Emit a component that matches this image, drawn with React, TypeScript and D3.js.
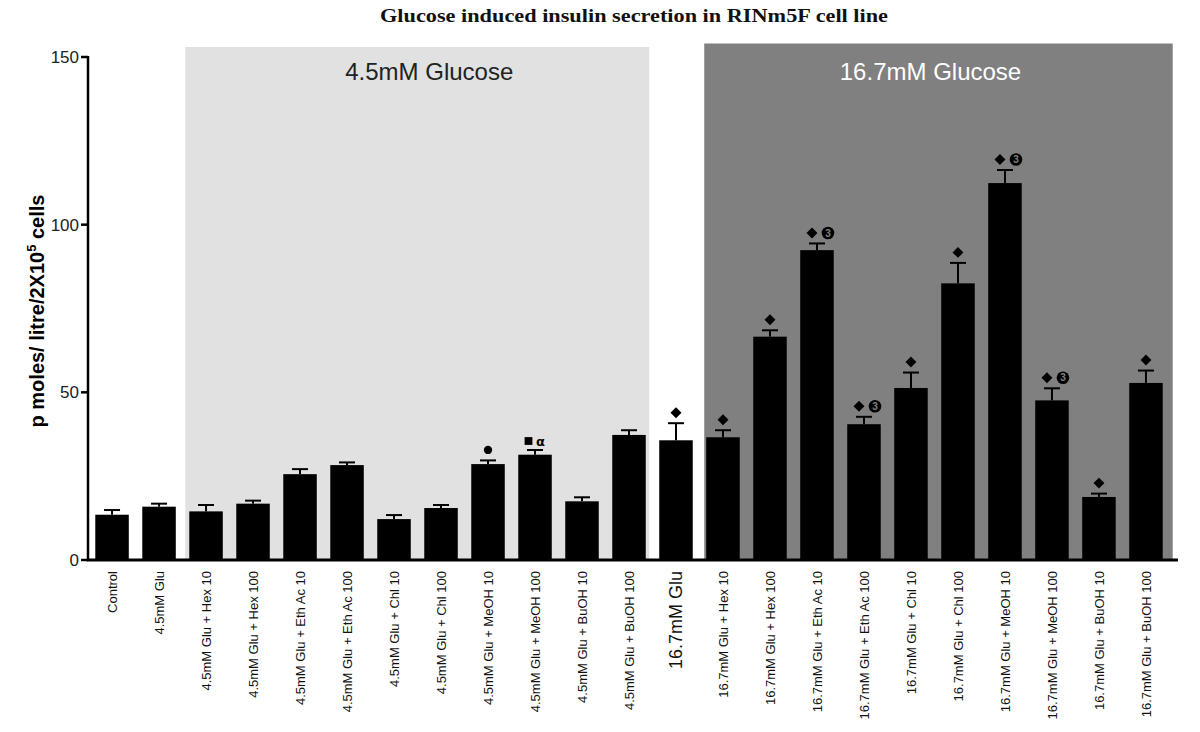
import React from "react";
import * as d3 from "d3";

const categories: string[] = [
  "Control",
  "4.5mM Glu",
  "4.5mM Glu + Hex 10",
  "4.5mM Glu + Hex 100",
  "4.5mM Glu + Eth Ac 10",
  "4.5mM Glu + Eth Ac 100",
  "4.5mM Glu + Chl 10",
  "4.5mM Glu + Chl 100",
  "4.5mM Glu + MeOH 10",
  "4.5mM Glu + MeOH 100",
  "4.5mM Glu + BuOH 10",
  "4.5mM Glu + BuOH 100",
  "16.7mM Glu",
  "16.7mM Glu + Hex 10",
  "16.7mM Glu + Hex 100",
  "16.7mM Glu + Eth Ac 10",
  "16.7mM Glu + Eth Ac 100",
  "16.7mM Glu + Chl 10",
  "16.7mM Glu + Chl 100",
  "16.7mM Glu + MeOH 10",
  "16.7mM Glu + MeOH 100",
  "16.7mM Glu + BuOH 10",
  "16.7mM Glu + BuOH 100",
];

const means: number[] = [
  13.5, 15.9, 14.5, 16.8, 25.6, 28.3, 12.2, 15.5, 28.6, 31.4, 17.5, 37.3,
  35.7, 36.6, 66.6, 92.4, 40.5, 51.3, 82.5, 112.4, 47.6, 18.8, 52.8,
];

const sems: number[] = [
  1.4, 0.9, 1.9, 0.9, 1.5, 0.8, 1.2, 0.9, 1.1, 1.4, 1.2, 1.4,
  5.1, 2.1, 1.9, 2.0, 2.2, 4.6, 6.1, 3.9, 3.6, 1.0, 3.7,
];

// significance marks: d = diamond, c = circle, s = square+alpha, t = diamond + circled 3
const marks: string[] = [
  "", "", "", "", "", "", "", "", "c", "s", "", "",
  "d", "d", "d", "t", "t", "d", "d", "t", "t", "d", "d",
];

const yTicks: number[] = [0, 50, 100, 150];

const title = "Glucose induced insulin secretion in RINm5F cell line";
const lowLabel = "4.5mM Glucose";
const highLabel = "16.7mM Glucose";

const FONT = "'Liberation Sans', Arial, Helvetica, sans-serif";

export default function App() {
  const W = 1200;
  const H = 732;
  const idx = categories.map((_, i) => i);

  const x = d3
    .scaleBand<number>()
    .domain(idx)
    .range([88, 1170])
    .paddingInner(0.287)
    .paddingOuter(0.155);
  const bw = x.bandwidth();
  const y = d3.scaleLinear().domain([0, 150]).range([560, 57]);

  const cx = (i: number) => (x(i) as number) + bw / 2;

  const diamond = d3.symbol().type(d3.symbolSquare).size(60)() as string;

  const lowX0 = (x(2) as number) - 4;
  const lowX1 = (x(11) as number) + bw + 3.5;
  const highX0 = (x(13) as number) - 2;
  const highX1 = (x(22) as number) + bw + 10;

  return (
    <svg
      width={W}
      height={H}
      style={{ position: "absolute", left: 0, top: 0, background: "#fff" }}
    >
      {/* title */}
      <text
        x={634}
        y={22}
        textAnchor="middle"
        fontFamily="'Liberation Serif', 'Times New Roman', serif"
        fontWeight="bold"
        fontSize={19}
        textLength={508}
        lengthAdjust="spacingAndGlyphs"
        fill="#111"
      >
        {title}
      </text>

      {/* shaded regions */}
      <rect x={lowX0} y={y(150) - 10} width={lowX1 - lowX0} height={y(0) - y(150) + 10} fill="#e1e1e1" />
      <rect x={highX0} y={y(150) - 13.5} width={highX1 - highX0} height={y(0) - y(150) + 13.5} fill="#808080" />
      <text x={(lowX0 + lowX1) / 2 + 12} y={80} textAnchor="middle" fontFamily={FONT} fontSize={24} fill="#222">
        {lowLabel}
      </text>
      <text x={(highX0 + highX1) / 2 - 8} y={80} textAnchor="middle" fontFamily={FONT} fontSize={24} fill="#fff">
        {highLabel}
      </text>

      {/* bars */}
      {idx.map((i) => (
        <rect
          key={"b" + i}
          x={x(i)}
          y={y(means[i])}
          width={bw}
          height={y(0) - y(means[i])}
          fill="#000"
        />
      ))}

      {/* error bars */}
      {idx.map((i) => {
        const top = y(means[i] + sems[i]);
        return (
          <g key={"e" + i} stroke="#000" strokeWidth={2}>
            <line x1={cx(i)} x2={cx(i)} y1={y(means[i])} y2={top} />
            <line x1={cx(i) - 8} x2={cx(i) + 8} y1={top} y2={top} />
          </g>
        );
      })}

      {/* significance marks */}
      {idx.map((i) => {
        const m = marks[i];
        if (!m) return null;
        const top = y(means[i] + sems[i]);
        const c = cx(i);
        if (m === "d") {
          return (
            <path key={"m" + i} d={diamond} transform={`translate(${c},${top - 10.5}) rotate(45)`} fill="#000" />
          );
        }
        if (m === "c") {
          return <circle key={"m" + i} cx={c} cy={top - 10.5} r={4.2} fill="#000" />;
        }
        if (m === "s") {
          return (
            <g key={"m" + i}>
              <rect x={c - 6.5 - 3.9} y={top - 9 - 3.9} width={7.8} height={7.8} fill="#000" />
              <text x={c + 5.5} y={top - 9} dy="0.35em" textAnchor="middle" fontFamily="'DejaVu Sans', sans-serif" fontWeight="bold" fontSize={13} fill="#000">
                α
              </text>
            </g>
          );
        }
        // diamond + circled 3
        return (
          <g key={"m" + i}>
            <path d={diamond} transform={`translate(${c - 5},${top - 10.5}) rotate(45)`} fill="#000" />
            <circle cx={c + 11} cy={top - 10.5} r={6.3} fill="#000" />
            <text x={c + 11} y={top - 10.5} dy="0.36em" textAnchor="middle" fontFamily={FONT} fontWeight="bold" fontSize={10} fill="#808080">
              3
            </text>
          </g>
        );
      })}

      {/* y axis */}
      <line x1={88} x2={88} y1={y(0)} y2={y(150) - 1} stroke="#000" strokeWidth={2.5} />
      {yTicks.map((t) => (
        <g key={"t" + t}>
          <line x1={81} x2={88} y1={y(t)} y2={y(t)} stroke="#000" strokeWidth={2.5} />
          <text x={79} y={y(t)} dy="0.35em" textAnchor="end" fontFamily={FONT} fontSize={17} fill="#222">
            {t}
          </text>
        </g>
      ))}

      {/* x axis */}
      <line x1={86.75} x2={1178} y1={y(0)} y2={y(0)} stroke="#000" strokeWidth={3} />

      {/* x labels */}
      {idx.map((i) => {
        const big = i === 12;
        return (
          <text
            key={"x" + i}
            transform={`translate(${cx(i)},571) rotate(-90)`}
            dy="0.35em"
            textAnchor="end"
            fontFamily={FONT}
            fontSize={big ? 18 : 13}
            fill="#111"
          >
            {categories[i]}
          </text>
        );
      })}

      {/* y label */}
      <text
        transform={`translate(44,311) rotate(-90)`}
        textAnchor="middle"
        fontFamily={FONT}
        fontWeight="bold"
        fontSize={20}
        fill="#000"
      >
        p moles/ litre/2X10
        <tspan dy={-8} fontSize={13}>5</tspan>
        <tspan dy={8}> cells</tspan>
      </text>
    </svg>
  );
}
